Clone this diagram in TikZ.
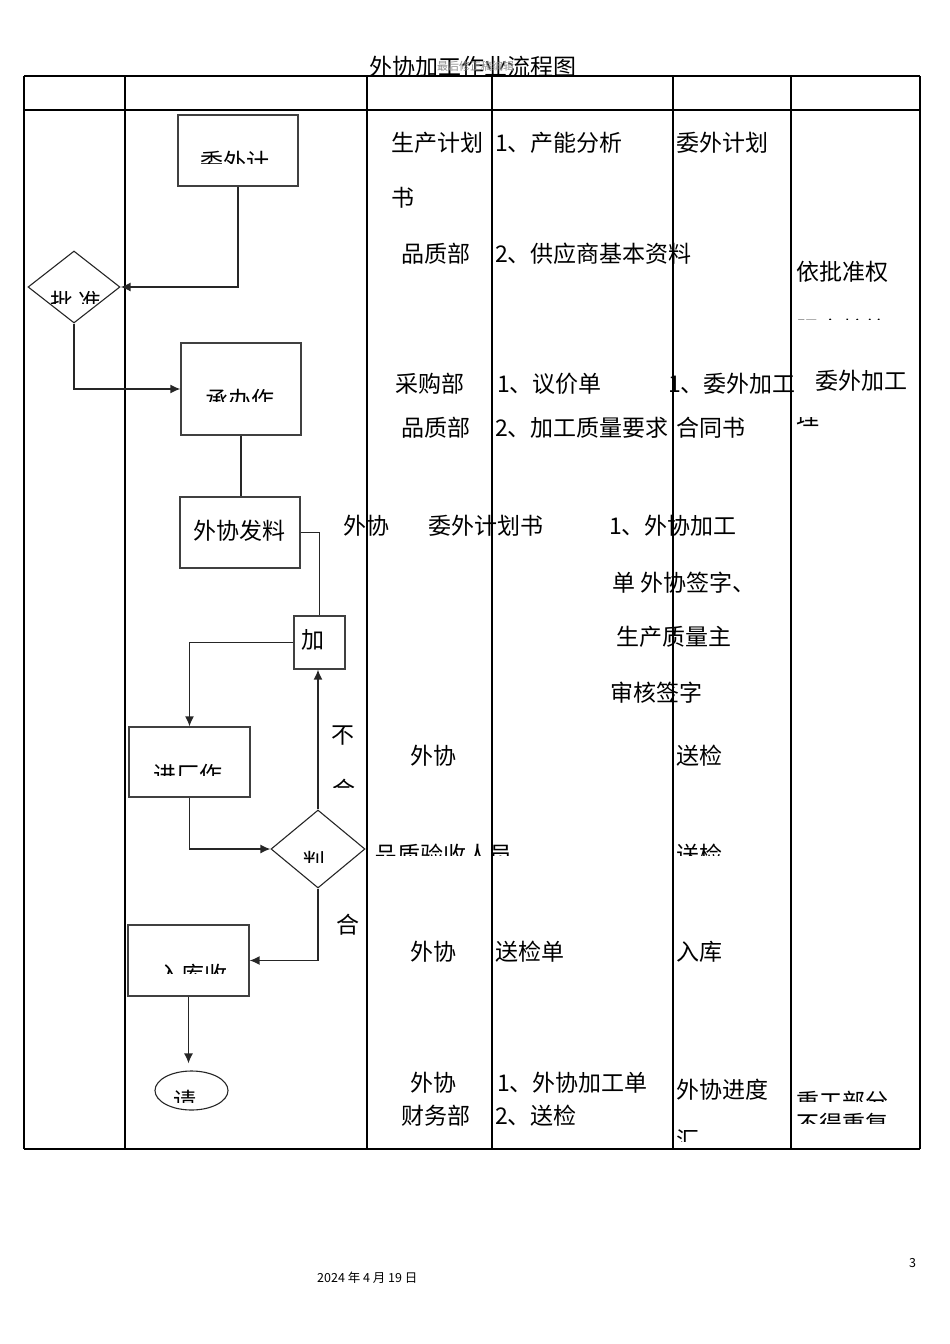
\documentclass[tikz,border=0pt]{standalone}
\usepackage{fontspec}
\newfontfamily\cjk{Noto Sans CJK SC}
\usetikzlibrary{shapes.geometric,arrows.meta}
\tikzset{
 t/.style={anchor=base west, inner sep=0pt, font=\cjk\fontsize{23}{23}\selectfont, text=black},
 grid/.style={line width=1.4pt, black},
 box/.style={draw=black!75, line width=1.2pt, rectangle, inner sep=0pt},
 dia/.style={draw=black!85, line width=1.1pt, diamond, inner sep=0pt},
 ell/.style={draw=black!85, line width=1.1pt, ellipse, inner sep=0pt},
 conn/.style={draw=black!85, line width=1.5pt},
 arr/.style={conn, -{Latex[length=10pt,width=9pt]}},
}
\newcommand\tx[4]{\node[t] (#1) at (#2,#3+9) {#4};}
\newcommand\ctx[5]{\begin{scope}\clip (#2-5,#3-30) rectangle (#2+300,#4);\node[t] (#1) at (#2,#3+9) {#5};\end{scope}}
\begin{document}
\begin{tikzpicture}[x=1pt,y=-1pt]
\useasboundingbox (0,0) rectangle (950,1344);
% title
\node[t] (title) at (369,66+9) {外协加工作业流程图};
\node[anchor=base west, inner sep=0pt, font=\cjk\fontsize{11}{11}\selectfont, text=black!45] (sub) at (437,66+4) {最后修正稿编辑};
% table
\draw[grid] (24,76) -- (920,76);
\draw[grid] (24,110) -- (920,110);
\draw[grid] (24,1149) -- (920,1149);
\foreach \xx in {24,125,367,492,673,791,920} { \draw[grid] (\xx,76) -- (\xx,1149); }
% flow nodes
\node[box, minimum width=120pt, minimum height=71pt] (b1) at (238,150.5) {};
\node[dia, minimum width=92pt, minimum height=72pt] (d1) at (74,287) {};
\node[box, minimum width=120pt, minimum height=92pt] (b2) at (241,389) {};
\node[box, minimum width=120pt, minimum height=71pt] (b3) at (240,532.5) {};
\node[box, minimum width=51pt, minimum height=53pt] (b4) at (319.5,642.5) {};
\node[box, minimum width=121pt, minimum height=70pt] (b5) at (189.5,762) {};
\node[dia, minimum width=94pt, minimum height=78pt] (d2) at (318,849) {};
\node[box, minimum width=121pt, minimum height=71pt] (b6) at (188.5,960.5) {};
\node[ell, minimum width=73pt, minimum height=39pt] (e1) at (191.5,1090.5) {};
% flow texts
\ctx{f1}{200}{161.5}{163}{委外计}
\ctx{f2}{50}{301}{303}{批 准}
\ctx{f3}{205}{399.5}{401}{承办作}
\tx{f4}{193}{530}{外协发料}
\tx{f5}{301}{639}{加}
\ctx{f6}{153}{774.5}{775}{进厂作}
\ctx{f7}{302}{861.5}{862}{判}
\ctx{f8}{158}{974.5}{973}{入库收}
\ctx{f9}{173}{1100.5}{1102}{请}
\tx{f10}{331}{734}{不}
\ctx{f11}{332}{789.5}{787}{合}
\tx{f12}{336}{924}{合}
% connectors
\draw[arr] (b1.south) |- (d1.east);
\draw[arr] (d1.south) |- (b2.west);
\draw[conn] (b2.south) -- (b2.south |- b3.north);
\draw[conn] (b3.east) -| (b4.north);
\draw[arr] (b4.west) -| (b5.north);
\draw[arr] (b5.south) |- (d2.west);
\draw[arr] (d2.north) -- (d2.north |- b4.south);
\draw[arr] (d2.south) |- (b6.east);
\draw[arr, shorten >=7pt] (b6.south) -- (b6.south |- e1.north);
% column texts
\tx{c1}{391}{142}{生产计划}
\tx{c2}{391}{197}{书}
\tx{c3}{401}{253}{品质部}
\tx{c4}{495}{142}{1、产能分析}
\tx{c5}{495}{253}{2、供应商基本资料}
\tx{c6}{676}{142}{委外计划}
\tx{c7}{796}{271}{依批准权}
\ctx{c8}{796}{329}{319}{限审核签}
\tx{c9}{395}{383}{采购部}
\tx{c10}{401}{427}{品质部}
\tx{c11}{497}{383}{1、议价单}
\tx{c12}{495}{427}{2、加工质量要求}
\tx{c13}{668}{383}{1、委外加工}
\tx{c14}{676}{427}{合同书}
\tx{c15}{815}{380}{委外加工}
\begin{scope}\clip (790,417) rectangle (840,450); \node[t] (c16) at (796,416+9) {理}; \end{scope}
\tx{c17}{343}{525}{外协}
\tx{c18}{428}{525}{委外计划书}
\tx{c19}{609}{525}{1、外协加工}
\tx{c20}{612}{582}{单 外协签字、}
\tx{c21}{616}{636}{生产质量主}
\tx{c22}{610}{692}{审核签字}
\tx{c23}{410}{755}{外协}
\tx{c24}{676}{755}{送检}
\ctx{c25}{374}{854.5}{855}{品质验收人员}
\ctx{c26}{676}{854.5}{855}{送检}
\tx{c27}{410}{951}{外协}
\tx{c28}{495}{951}{送检单}
\tx{c29}{676}{951}{入库}
\tx{c30}{410}{1082}{外协}
\tx{c31}{401}{1115}{财务部}
\tx{c32}{497}{1082}{1、外协加工单}
\tx{c33}{495}{1115}{2、送检}
\tx{c34}{676}{1089}{外协进度}
\ctx{c35}{676}{1139.5}{1141}{汇}
\ctx{c36}{796}{1101.5}{1101}{重工部分}
\ctx{c37}{796}{1123.5}{1123}{不得重复}
% footer
\node[anchor=base west, inner sep=0pt, font=\cjk\fontsize{12.5}{12.5}\selectfont] (date) at (317,1282) {2024 年 4 月 19 日};
\node[anchor=base west, inner sep=0pt, font=\cjk\fontsize{12.5}{12.5}\selectfont] (page) at (909,1267) {3};
\end{tikzpicture}
\end{document}
